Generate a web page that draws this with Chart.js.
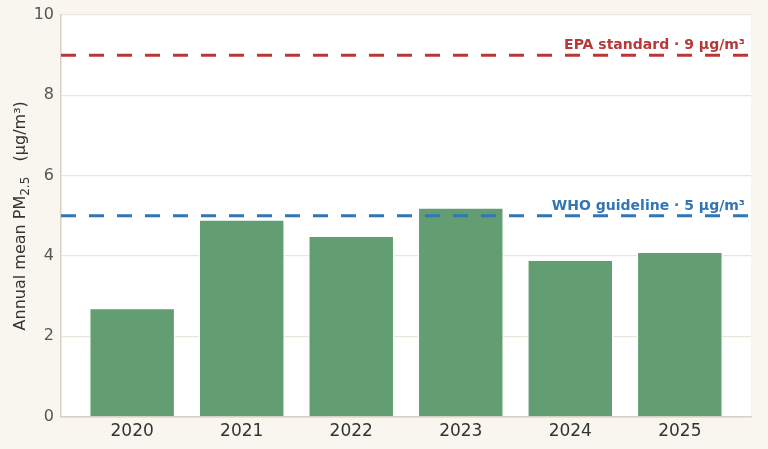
<!DOCTYPE html>
<html>
<head>
<meta charset="utf-8">
<script src="https://cdn.jsdelivr.net/npm/chart.js@4"></script>
<style>
  html, body { margin: 0; padding: 0; background: #f9f6f0; }
  #wrap { width: 768px; height: 449px; }
</style>
</head>
<body>
<div id="wrap"><canvas id="pmChart"></canvas></div>
<script>
const years = ['2020', '2021', '2022', '2023', '2024', '2025'];
const pmValues = [2.7, 4.9, 4.5, 5.2, 3.9, 4.1];
const yTicks = [0, 2, 4, 6, 8, 10];
const limitValues = [9, 5];
const limitLabels = ['EPA standard · 9 µg/m³', 'WHO guideline · 5 µg/m³'];
const limitColors = ['#b83838', '#3375b5'];

const plotBackground = {
    id: 'plotBackground',
    beforeDraw(chart) {
        const { ctx, chartArea: a } = chart;
        ctx.save();
        ctx.fillStyle = '#ffffff';
        ctx.fillRect(a.left, a.top, a.right - a.left, a.bottom - a.top);
        ctx.restore();
    }
};

const limitLines = {
    id: 'limitLines',
    afterDatasetsDraw(chart) {
        const { ctx, chartArea: a } = chart;
        const y = chart.scales.y;
        ctx.save();
        limitValues.forEach((v, i) => {
            const py = y.getPixelForValue(v);
            ctx.strokeStyle = limitColors[i];
            ctx.lineWidth = 3;
            ctx.setLineDash([15, 13]);
            ctx.beginPath();
            ctx.moveTo(a.left, py);
            ctx.lineTo(a.right, py);
            ctx.stroke();
            ctx.setLineDash([]);
            ctx.fillStyle = limitColors[i];
            ctx.font = 'bold 14px "DejaVu Sans"';
            ctx.textAlign = 'right';
            ctx.textBaseline = 'alphabetic';
            ctx.fillText(limitLabels[i], a.right - 6, py - 6);
        });
        ctx.restore();
    }
};

// y title with a real subscript
const yTitle = {
    id: 'yTitle',
    afterDraw(chart) {
        const { ctx, chartArea: a } = chart;
        ctx.save();
        ctx.translate(19, (a.top + a.bottom) / 2);
        ctx.rotate(-Math.PI / 2);
        ctx.fillStyle = '#333333';
        const big = '16px "DejaVu Sans"';
        const small = '12px "DejaVu Sans"';
        const parts = [['Annual mean PM', big, 0], ['2.5', small, 4], ['   (µg/m³)', big, 0]];
        let w = 0;
        parts.forEach(p => { ctx.font = p[1]; w += ctx.measureText(p[0]).width; });
        let x = -w / 2;
        parts.forEach(p => {
            ctx.font = p[1];
            ctx.textAlign = 'left';
            ctx.fillText(p[0], x, 6 + p[2]);
            x += ctx.measureText(p[0]).width;
        });
        ctx.restore();
    }
};

new Chart(document.getElementById('pmChart').getContext('2d'), {
    type: 'bar',
    data: {
        datasets: [{
            label: 'Annual mean PM2.5',
            data: pmValues.map((v, i) => ({ x: i, y: v })),
            backgroundColor: '#639e73',
            borderColor: '#ffffff',
            borderWidth: 1,
            barPercentage: 0.78,
            categoryPercentage: 1
        }]
    },
    options: {
        responsive: true,
        maintainAspectRatio: false,
        animation: false,
        layout: { padding: { top: 4, right: 17, bottom: 2, left: 0 } },
        plugins: {
            legend: { display: false },
            tooltip: { enabled: false }
        },
        scales: {
            x: {
                type: 'linear',
                offset: false,
                min: -0.65,
                max: years.length - 0.35,
                afterBuildTicks(scale) { scale.ticks = years.map((_, i) => ({ value: i })); },
                grid: { display: false, drawTicks: false },
                border: { color: '#d8d0c2', width: 1.5 },
                ticks: {
                    color: '#333333',
                    font: { family: 'DejaVu Sans', size: 17 },
                    padding: 5,
                    autoSkip: false,
                    maxRotation: 0,
                    callback: v => years[v]
                }
            },
            y: {
                min: 0,
                max: 10,
                afterFit(scale) { scale.width = 61; },
                afterBuildTicks(scale) { scale.ticks = yTicks.map(v => ({ value: v })); },
                grid: { color: '#ebe5db', lineWidth: 1.2, drawTicks: false },
                border: { color: '#d8d0c2', width: 1.5 },
                ticks: { color: '#555555', font: { family: 'DejaVu Sans', size: 16, lineHeight: 1 }, padding: 7 }
            }
        }
    },
    plugins: [plotBackground, limitLines, yTitle]
});
</script>
</body>
</html>
